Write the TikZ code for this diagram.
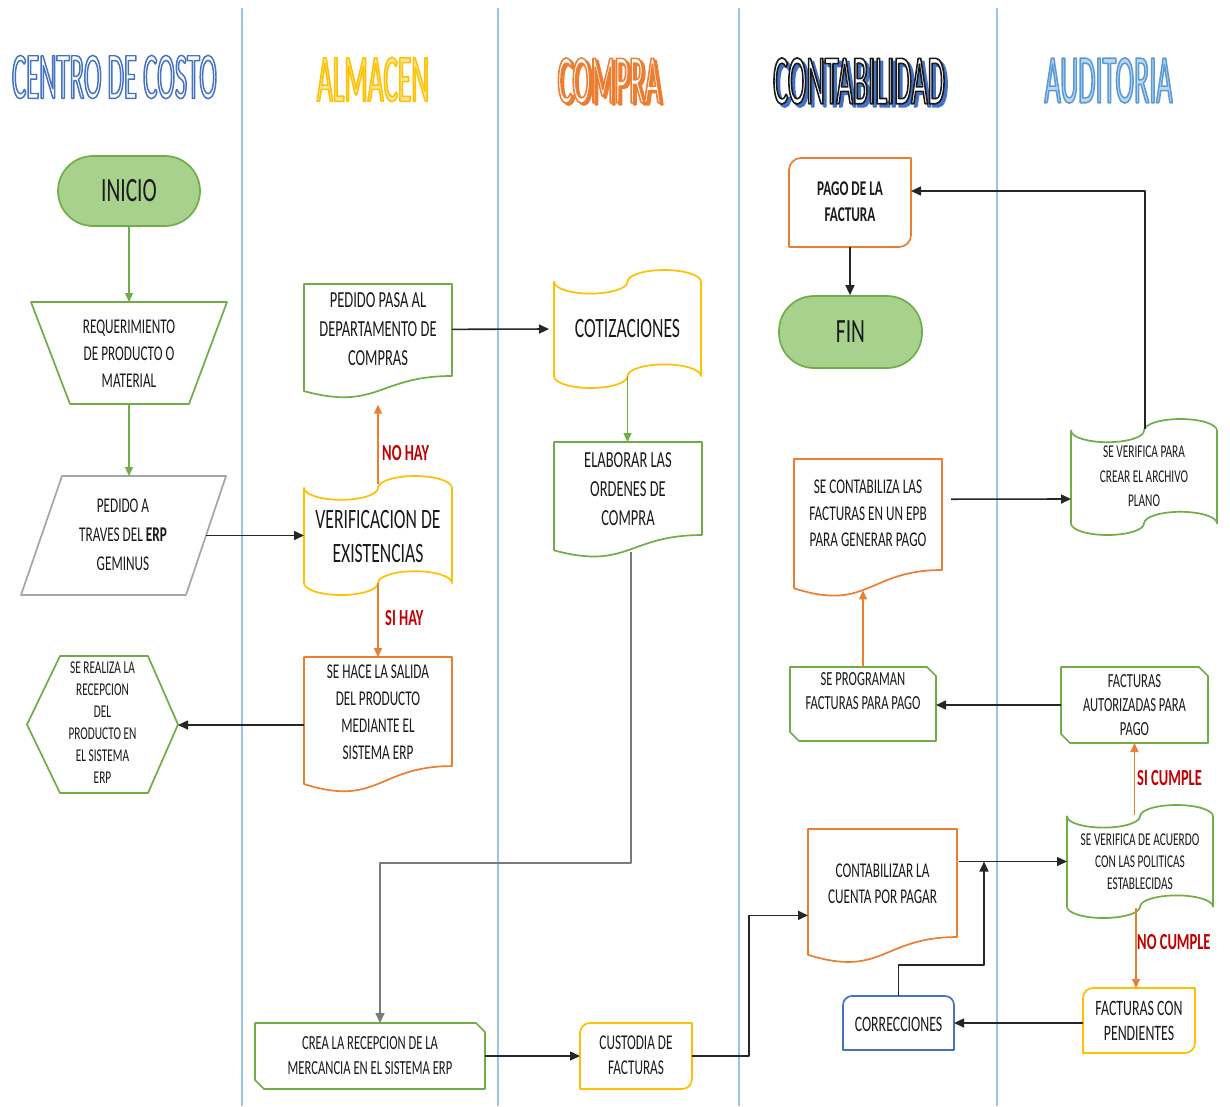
\documentclass[tikz,border=0pt]{standalone}
\usepackage{fontspec}
\setmainfont{Carlito}[FakeStretch=0.63]
\newfontfamily\headfont{Carlito}[FakeStretch=0.4]
\usetikzlibrary{calc,arrows.meta}

\definecolor{lane}{HTML}{9DC3E6}
\definecolor{grn}{HTML}{70AD47}
\definecolor{grnfill}{HTML}{A9D18E}
\definecolor{org}{HTML}{ED7D31}
\definecolor{yel}{HTML}{FFC000}
\definecolor{yelfill}{HTML}{FFE699}
\definecolor{blu}{HTML}{4472C4}
\definecolor{skyblu}{HTML}{5B9BD5}
\definecolor{skyfill}{HTML}{BDD7EE}
\definecolor{gry}{HTML}{A5A5A5}
\definecolor{midgry}{HTML}{7A7A7A}
\definecolor{lbl}{HTML}{C00000}
\definecolor{ink}{HTML}{1A1A1A}
\definecolor{wire}{HTML}{262626}

% hollow lettering: fill in #1, stroke with the rgb triple #2
\newcommand\hollow[3]{{\color{#1}\special{pdf:literal direct 2 Tr 1.5 w #2 RG}#3\special{pdf:literal direct 0 Tr}}}
\newcommand\headtext[3]{\resizebox{#1}{#2}{\headfont\fontsize{68}{72}\selectfont #3}}

% flowchart outlines built on the anchors of a bounding node
\newcommand\docpath[1]{(#1.north west) -- (#1.north east) -- ($(#1.north east)!0.802!(#1.south east)$) .. controls ($(#1.north)!0.802!(#1.south)$) and ($(#1.north)!1.107!(#1.south)$) .. ($(#1.north west)!0.934!(#1.south west)$) -- cycle}
\newcommand\tapepath[3]{($(#1.north west)+(0,0.1*#3)$) arc[start angle=180,end angle=0,x radius=#2/4,y radius=0.1*#3] arc[start angle=180,end angle=360,x radius=#2/4,y radius=0.1*#3] -- ++(0,0.8*#3) arc[start angle=0,end angle=-180,x radius=#2/4,y radius=0.1*#3] arc[start angle=0,end angle=180,x radius=#2/4,y radius=0.1*#3] -- cycle}
\newcommand\snippath[2]{(#1.north west) -- ($(#1.north east)+(-#2,0)$) -- ($(#1.north east)+(0,#2)$) -- (#1.south east) -- ($(#1.south west)+(#2,0)$) -- ($(#1.south west)+(0,-#2)$) -- cycle}
\newcommand\rdiagpath[2]{($(#1.north west)+(0,#2)$) arc[start angle=180,end angle=270,radius=#2] -- (#1.north east) -- ($(#1.south east)+(0,-#2)$) arc[start angle=0,end angle=90,radius=#2] -- (#1.south west) -- cycle}
\newcommand\rtoppath[2]{(#1.south west) -- ($(#1.north west)+(0,#2)$) arc[start angle=180,end angle=270,radius=#2] -- ($(#1.north east)+(-#2,0)$) arc[start angle=270,end angle=360,radius=#2] -- (#1.south east) -- cycle}

\tikzset{
  shapebox/.style={rectangle, inner sep=0pt, outer sep=0pt},
  outline/.style={line width=1.7pt, draw=#1},
  txt/.style 2 args={font=\fontsize{#1}{#2}\selectfont, align=center, inner sep=0pt, text=ink},
  lab/.style={font=\fontsize{23}{26}\selectfont\bfseries, text=lbl, inner sep=0pt, anchor=west},
  conn/.style={line width=1.6pt, draw=wire, -{Triangle[length=10pt,width=9pt]}},
  gconn/.style={line width=1.3pt, draw=grn, -{Triangle[length=9pt,width=8pt]}},
  oconn/.style={line width=1.3pt, draw=org, -{Triangle[length=9pt,width=8pt]}},
  terminal/.style={rectangle, rounded corners=35pt, draw=grn, fill=grnfill, line width=1.7pt,
    font=\fontsize{34}{38}\selectfont, text=ink, inner sep=0pt},
  lanesep/.style={draw=lane, line width=1.5pt},
  heading/.style={inner sep=0pt}
}

\begin{document}
\begin{tikzpicture}[x=1pt, y=-1pt, line join=round]
\fill[white] (0,0) rectangle (1230,1106);
\useasboundingbox (0,0) rectangle (1230,1106);

% swimlane separators
\foreach \lx in {242,498,739,997} \draw[lanesep] (\lx,8) -- (\lx,1106);

% lane headings
\node[heading] (hCentro) at (114.5,77) {\headtext{205pt}{43pt}{\hollow{white}{0.267 0.447 0.769}{CENTRO DE COSTO}}};
\node[heading] (hAlmacen) at (373,79.5) {\headtext{112pt}{44pt}{\hollow{yelfill}{1 0.753 0}{ALMACEN}}};
\node[heading] (hCompraSh) at (611.5,82.5) {\headtext{103pt}{45pt}{\hollow{org}{0.929 0.49 0.192}{COMPRA}}};
\node[heading] (hCompra) at (609,80.5) {\headtext{103pt}{45pt}{\hollow{white}{0.929 0.49 0.192}{COMPRA}}};
\node[heading] (hContaSh) at (862,84) {\headtext{172pt}{46pt}{\hollow{blu}{0.267 0.447 0.769}{CONTABILIDAD}}};
\node[heading] (hConta) at (859,81) {\headtext{172pt}{46pt}{\hollow{white}{0.1 0.1 0.1}{CONTABILIDAD}}};
\node[heading] (hAudit) at (1108.5,80.5) {\headtext{128pt}{45pt}{\hollow{skyfill}{0.357 0.608 0.835}{AUDITORIA}}};

% ---------- CENTRO DE COSTO ----------
\node[terminal, minimum width=142pt, minimum height=70pt] (inicio) at (129,191) {INICIO};

\node[shapebox, minimum width=196pt, minimum height=102pt] (req) at (129,353) {};
\draw[outline=grn] (req.north west) -- (req.north east) -- ($(req.south east)+(-38,0)$) -- ($(req.south west)+(39,0)$) -- cycle;
\node[txt={21}{27}] (reqT) at (129,354) {REQUERIMIENTO\\DE PRODUCTO O\\MATERIAL};

\node[shapebox, minimum width=205pt, minimum height=119pt] (ped) at (123.5,535.5) {};
\draw[outline=gry] ($(ped.north west)+(41,0)$) -- (ped.north east) -- ($(ped.south east)+(-40,0)$) -- (ped.south west) -- cycle;
\node[txt={21}{29}] (pedT) at (123,535) {PEDIDO A\\TRAVES DEL \textbf{ERP}\\GEMINUS};

\node[shapebox, minimum width=151pt, minimum height=137pt] (hex) at (102.5,724.5) {};
\draw[outline=grn] (hex.west) -- ($(hex.north west)+(33,0)$) -- ($(hex.north east)+(-30,0)$) -- (hex.east) -- ($(hex.south east)+(-30,0)$) -- ($(hex.south west)+(33,0)$) -- cycle;
\node[txt={18}{22}] (hexT) at (102.5,723) {SE REALIZA LA\\RECEPCION\\DEL\\PRODUCTO EN\\EL SISTEMA\\ERP};

% ---------- ALMACEN ----------
\node[shapebox, minimum width=148pt, minimum height=114.7pt] (pedA) at (378,341.35) {};
\draw[outline=grn] \docpath{pedA};
\node[txt={23}{29}] (pedAT) at (378,329) {PEDIDO PASA AL\\DEPARTAMENTO DE\\COMPRAS};

\node[shapebox, minimum width=148pt, minimum height=119pt] (verif) at (378,535.5) {};
\draw[outline=yel] \tapepath{verif}{148}{119};
\node[txt={28}{34}] (verifT) at (378,536) {VERIFICACION DE\\EXISTENCIAS};

\node[shapebox, minimum width=148pt, minimum height=136pt] (salida) at (378,725) {};
\draw[outline=org] \docpath{salida};
\node[txt={21}{27}] (salidaT) at (378,712) {SE HACE LA SALIDA\\DEL PRODUCTO\\MEDIANTE EL\\SISTEMA ERP};

\node[shapebox, minimum width=230pt, minimum height=66pt] (crea) at (370,1056) {};
\draw[outline=grn] \snippath{crea}{9};
\node[txt={20}{25}] (creaT) at (370,1055.5) {CREA LA RECEPCION DE LA\\MERCANCIA EN EL SISTEMA ERP};

% ---------- COMPRA ----------
\node[shapebox, minimum width=147pt, minimum height=118pt] (cotiz) at (627.5,329) {};
\draw[outline=yel] \tapepath{cotiz}{147}{118};
\node[txt={28}{34}] (cotizT) at (627.5,329) {COTIZACIONES};

\node[shapebox, minimum width=148pt, minimum height=116pt] (elab) at (628,500) {};
\draw[outline=grn] \docpath{elab};
\node[txt={23}{29}] (elabT) at (628,489) {ELABORAR LAS\\ORDENES DE\\COMPRA};

\node[shapebox, minimum width=112pt, minimum height=66pt] (cust) at (636,1056) {};
\draw[outline=yel] \rdiagpath{cust}{10};
\node[txt={21}{25}] (custT) at (636,1055.5) {CUSTODIA DE\\FACTURAS};

% ---------- CONTABILIDAD ----------
\node[shapebox, minimum width=122pt, minimum height=89pt] (pago) at (850,202.5) {};
\draw[outline=org] \rdiagpath{pago}{12};
\node[txt={21}{26}, font=\fontsize{21}{26}\selectfont\bfseries] (pagoT) at (850,202) {PAGO DE LA\\FACTURA};

\node[terminal, minimum width=143pt, minimum height=72pt] (fin) at (850.5,332) {FIN};

\node[shapebox, minimum width=148pt, minimum height=138.4pt] (scont) at (868,528.2) {};
\draw[outline=org] \docpath{scont};
\node[txt={21}{26.5}] (scontT) at (868,513.5) {SE CONTABILIZA LAS\\FACTURAS EN UN EPB\\PARA GENERAR PAGO};

\node[shapebox, minimum width=146pt, minimum height=74pt] (sprog) at (863,704) {};
\draw[outline=grn] \snippath{sprog}{9};
\node[txt={20}{24}] (sprogT) at (863,691) {SE PROGRAMAN\\FACTURAS PARA PAGO};

\node[shapebox, minimum width=149pt, minimum height=134.7pt] (contab) at (882.5,896.35) {};
\draw[outline=org] \docpath{contab};
\node[txt={21}{26}] (contabT) at (882.5,884) {CONTABILIZAR LA\\CUENTA POR PAGAR};

\node[shapebox, minimum width=111pt, minimum height=54pt] (corr) at (898.5,1023) {};
\draw[outline=blu] \rtoppath{corr}{9};
\node[txt={22}{26}] (corrT) at (898.5,1024) {CORRECCIONES};

% ---------- AUDITORIA ----------
\node[shapebox, minimum width=146pt, minimum height=116pt] (svp) at (1144,477) {};
\draw[outline=grn] \tapepath{svp}{146}{116};
\node[txt={18}{24.5}] (svpT) at (1144,476.5) {SE VERIFICA PARA\\CREAR EL ARCHIVO\\PLANO};

\node[shapebox, minimum width=147pt, minimum height=76pt] (faut) at (1134.5,705) {};
\draw[outline=grn] \snippath{faut}{9};
\node[txt={20}{24}] (fautT) at (1134.5,705) {FACTURAS\\AUTORIZADAS PARA\\PAGO};

\node[shapebox, minimum width=146pt, minimum height=113pt] (verAc) at (1140,861.5) {};
\draw[outline=grn] \tapepath{verAc}{146}{113};
\node[txt={18}{22}] (verAcT) at (1140,862) {SE VERIFICA DE ACUERDO\\CON LAS POLITICAS\\ESTABLECIDAS};

\node[shapebox, minimum width=112pt, minimum height=65pt] (fcp) at (1139,1020.5) {};
\draw[outline=yel] \rdiagpath{fcp}{10};
\node[txt={22}{25}] (fcpT) at (1139,1020.5) {FACTURAS CON\\PENDIENTES};

% ---------- connectors ----------
\draw[gconn] (inicio.south) -- (req.north);
\draw[gconn] (req.south) -- (req.south |- ped.north);
\draw[conn] ($(ped.east)+(-20,0)$) -- (verif.west);

\draw[oconn] ($(verif.north)+(0,8)$) -- ($(pedA.south)+(0,6)$);
\node[lab] (noHay) at (382,453) {NO HAY};
\draw[oconn] ($(verif.south)+(0,-12)$) -- (salida.north);
\node[lab] (siHay) at (385,618) {SI HAY};
\draw[conn] (salida.west) -- (salida.west -| hex.east);

\draw[conn] ($(pedA.east)+(0,-12)$) -- ($(cotiz.west)+(-5,0)$);
\draw[gconn] ($(cotiz.south)+(0,-12)$) -- (cotiz.south |- elab.north);

\coordinate (elabDrop) at (631,863);
\draw[conn, draw=midgry] ($(elab.south)+(3,-6)$) -- (elabDrop) -| ($(crea.north)+(10,0)$);
\draw[conn] (crea.east) -- (cust.west);
\draw[conn] (cust.east) -- ++(57,0) |- ($(contab.west)+(0,19)$);

\draw[conn] ($(verAc.west -| contab.east)+(2,0)$) -- (verAc.west);
\coordinate (corrJoin) at (984,965);
\draw[conn] (corr.north) |- (corrJoin) -- (corrJoin |- verAc.west);

\draw[oconn] ($(faut.south |- verAc.north)+(0,10)$) -- (faut.south);
\node[lab] (siCumple) at (1137,778) {SI CUMPLE};
\draw[oconn] ($(verAc.south)+(-4,-10)$) -- ($(fcp.north)+(-3,0)$);
\node[lab] (noCumple) at (1137,942) {NO CUMPLE};

\draw[conn] ($(fcp.west)+(0,2.5)$) -- (corr.east);
\draw[conn] (faut.west) -- (faut.west -| sprog.east);
\draw[oconn] (sprog.north) -- ($(sprog.north |- scont.south)+(0,-7)$);
\draw[conn] ($(scont.east)+(9,-29)$) -- ($(svp.west)+(0,22)$);
\draw[conn] ($(svp.north)+(1,10)$) |- ($(pago.east)+(0,-11.5)$);
\draw[conn] (pago.south) -- (pago.south |- fin.north);
\end{tikzpicture}
\end{document}
